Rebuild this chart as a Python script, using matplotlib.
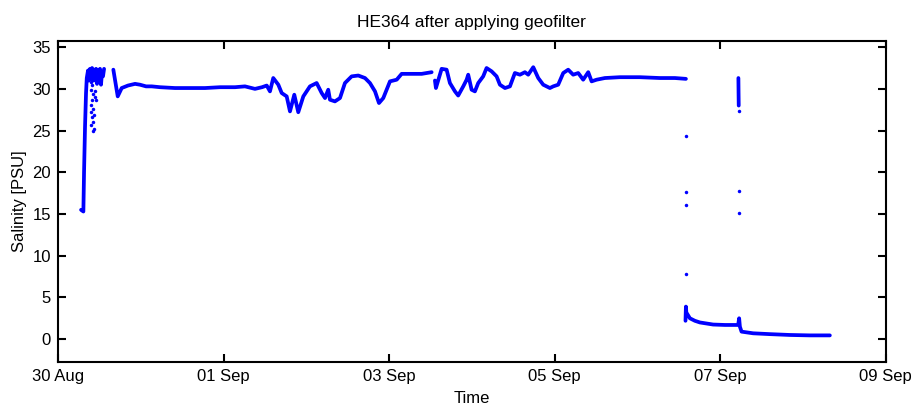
import numpy as np
import pandas as pd
import matplotlib
matplotlib.use("Agg")
import matplotlib.pyplot as plt
import matplotlib.dates as mdates

plt.rcParams['font.family'] = ['Liberation Sans', 'DejaVu Sans']

base = pd.Timestamp("2011-08-30")

# days after 30 Aug 00:00, salinity [PSU]
rise_t = [0.278, 0.306, 0.314, 0.326, 0.338, 0.347, 0.362, 0.374, 0.386, 0.399, 0.411, 0.423,
          0.435, 0.447, 0.459, 0.471, 0.483, 0.495, 0.507, 0.519, 0.531, 0.543, 0.556]
rise_s = [15.5, 15.3, 20.0, 25.5, 29.5, 31.3, 32.2, 31.0, 32.4, 31.2, 32.5, 31.0,
          32.3, 31.5, 32.4, 30.6, 32.2, 31.0, 32.4, 30.5, 32.0, 31.5, 32.4]

spray_t = [0.395, 0.411, 0.435, 0.402, 0.423, 0.443, 0.411, 0.395, 0.423, 0.402, 0.435, 0.411,
           0.423, 0.402, 0.435, 0.423, 0.463, 0.450]
spray_s = [30.8, 30.5, 31.1, 29.9, 29.4, 29.0, 28.7, 28.1, 27.6, 27.2, 26.9, 26.6,
           26.0, 25.7, 25.2, 24.9, 28.7, 29.7]

seg2_t = [0.668, 0.721, 0.769, 0.845, 0.930, 0.990, 1.063, 1.132, 1.232, 1.413, 1.594, 1.775,
          1.957, 2.138, 2.258, 2.379, 2.464, 2.521, 2.560, 2.600, 2.661, 2.702, 2.762, 2.802,
          2.854, 2.902, 2.963, 3.043, 3.124, 3.185, 3.225, 3.264, 3.285, 3.345, 3.406, 3.466,
          3.547, 3.627, 3.708, 3.768, 3.829, 3.877, 3.929, 4.010, 4.091, 4.151, 4.272, 4.393, 4.513]
seg2_s = [32.3, 29.1, 30.1, 30.4, 30.6, 30.5, 30.3, 30.3, 30.2, 30.1, 30.1, 30.1,
          30.2, 30.2, 30.3, 30.0, 30.2, 30.4, 29.7, 31.3, 30.5, 29.5, 29.1, 27.3,
          29.3, 27.2, 29.1, 30.3, 30.7, 29.5, 28.9, 29.9, 28.7, 28.5, 28.9, 30.7,
          31.5, 31.6, 31.3, 30.7, 29.7, 28.3, 28.9, 30.9, 31.1, 31.8, 31.8, 31.8, 32.0]

seg3_t = [4.553, 4.565, 4.634, 4.694, 4.734, 4.795, 4.834, 4.895, 4.936, 4.955, 4.996, 5.036,
          5.076, 5.136, 5.177, 5.238, 5.298, 5.338, 5.399, 5.459, 5.519, 5.580, 5.640, 5.680,
          5.741, 5.801, 5.861, 5.942, 5.982, 6.042, 6.103, 6.163, 6.223, 6.284, 6.344, 6.405,
          6.446, 6.506, 6.606, 6.787, 7.029, 7.271, 7.452, 7.585]
seg3_s = [31.0, 30.1, 32.4, 32.3, 30.7, 29.7, 29.2, 30.3, 31.1, 31.7, 29.9, 29.7,
          30.7, 31.5, 32.5, 32.1, 31.5, 30.5, 30.1, 30.3, 31.9, 31.7, 32.0, 31.7,
          32.6, 31.3, 30.5, 30.1, 30.3, 30.5, 31.9, 32.3, 31.7, 31.9, 31.1, 32.0,
          30.9, 31.1, 31.3, 31.4, 31.4, 31.3, 31.3, 31.2]

low_t = [7.580, 7.585, 7.590, 7.633, 7.693, 7.754, 7.914, 8.056, 8.216, 8.228, 8.237, 8.257,
         8.397, 8.599, 8.841, 9.082, 9.324]
low_s = [2.2, 3.9, 3.2, 2.5, 2.2, 2.0, 1.75, 1.7, 1.7, 2.5, 1.5, 0.9,
         0.7, 0.6, 0.5, 0.45, 0.45]

back_t = [8.219, 8.221, 8.223]
back_s = [31.3, 29.5, 28.0]

lone_t = [7.585, 7.585, 7.585, 7.585, 8.225, 8.221, 8.221]
lone_s = [24.3, 17.6, 16.05, 7.8, 27.3, 17.8, 15.1]


def to_dates(days):
    return base + pd.to_timedelta(np.array(days), unit="D")


fig = plt.figure(figsize=(9.17, 4.05), dpi=100)
ax = fig.add_axes([0.0633, 0.107, 0.9027, 0.792])

for t, s in [(rise_t, rise_s), (seg2_t, seg2_s), (seg3_t, seg3_s), (low_t, low_s), (back_t, back_s)]:
    ax.plot(to_dates(t), s, color="blue", lw=2.7, solid_joinstyle="round", solid_capstyle="round")
for t, s in [(spray_t, spray_s), (lone_t, lone_s)]:
    ax.plot(to_dates(t), s, ls="none", marker="o", ms=2.5, mec="none", color="blue")

ax.set_xlim(pd.Timestamp("2011-08-30"), pd.Timestamp("2011-09-09"))
ax.set_ylim(-2.7, 35.75)
ax.set_yticks(range(0, 36, 5))
ax.xaxis.set_major_locator(mdates.DayLocator(interval=2))
ax.xaxis.set_major_formatter(mdates.DateFormatter("%d %b"))

ax.tick_params(direction="in", length=6, width=1.5, labelsize=12, top=True, right=True, pad=5)
for sp in ax.spines.values():
    sp.set_linewidth(1.5)

ax.set_title("HE364 after applying geofilter", fontsize=12.5, pad=10)
ax.set_xlabel("Time", fontsize=12, labelpad=5)
ax.set_ylabel("Salinity [PSU]", fontsize=12, labelpad=4)

plt.savefig("out.png", dpi=100)
